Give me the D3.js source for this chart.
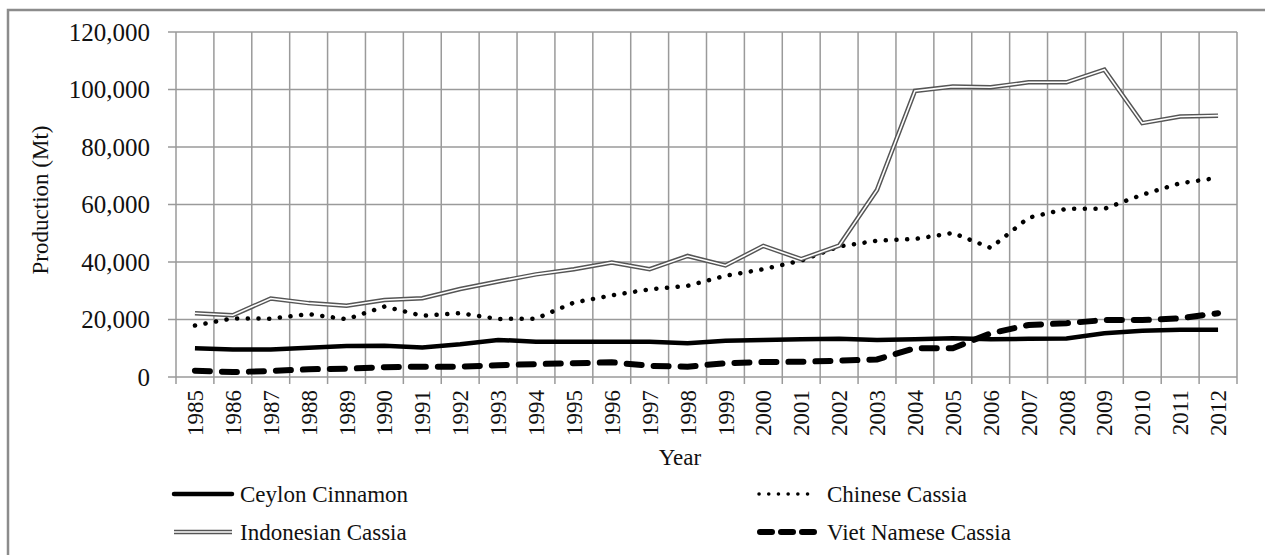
<!DOCTYPE html>
<html>
<head>
<meta charset="utf-8">
<script src="https://cdn.jsdelivr.net/npm/d3@7"></script>
<style>
  body { margin: 0; background: #fff; }
  text { font-family: "Liberation Serif", "Times New Roman", serif; fill: #111; }
</style>
</head>
<body>
<div id="chart"></div>
<script>
const years = ["1985","1986","1987","1988","1989","1990","1991","1992","1993","1994","1995","1996","1997","1998","1999","2000","2001","2002","2003","2004","2005","2006","2007","2008","2009","2010","2011","2012"];

const ceylon = [10000,9600,9600,10200,10800,10900,10300,11400,12900,12300,12300,12300,12300,11700,12600,12900,13100,13300,12900,13100,13500,13100,13300,13400,15200,16100,16400,16400];
const chinese = [17900,20400,20300,21900,20100,24500,21300,22200,20200,20300,25900,28400,30500,31700,35200,37500,40500,45400,47400,48000,50100,44900,55400,58500,58500,63400,67400,69300];
const indonesian = [22200,21500,27300,25700,24800,26800,27400,30600,33200,35700,37500,39800,37500,42100,38800,45600,41000,45700,65100,99500,101000,100800,102500,102500,106900,88300,90600,90900];
const viet = [2200,1700,2100,2700,2900,3400,3600,3600,4100,4500,4800,5100,3900,3600,4800,5200,5300,5700,6100,10000,10000,15200,18100,18700,19800,19800,20400,22200];

const yTicks = [0,20000,40000,60000,80000,100000,120000];

const width = 1265, height = 555;
const margin = {top: 32, right: 28, bottom: 178, left: 176};

const svg = d3.select("#chart")
  .append("svg")
  .attr("width", width)
  .attr("height", height);

// outer frame (only top and left show inside the window)
svg.append("rect")
  .attr("x", 8).attr("y", 10)
  .attr("width", width + 20).attr("height", height + 20)
  .attr("fill", "none")
  .attr("stroke", "#8c8c8c")
  .attr("stroke-width", 2.5);

const xScale = d3.scaleBand()
  .domain(years)
  .range([margin.left, width - margin.right])
  .padding(0);

const yScale = d3.scaleLinear()
  .domain([0, 120000])
  .range([height - margin.bottom, margin.top]);

const xMid = function(d) { return xScale(d) + xScale.bandwidth() / 2; };

// gridlines
svg.append("g")
  .selectAll("line")
  .data(yTicks)
  .enter()
  .append("line")
    .attr("x1", margin.left - 8)
    .attr("x2", width - margin.right)
    .attr("y1", function(d) { return yScale(d); })
    .attr("y2", function(d) { return yScale(d); })
    .attr("stroke", "#9a9a9a")
    .attr("stroke-width", 1.5);

const xEdges = years.map(function(d) { return xScale(d); }).concat([width - margin.right]);

svg.append("g")
  .selectAll("line")
  .data(xEdges)
  .enter()
  .append("line")
    .attr("x1", function(d) { return d; })
    .attr("x2", function(d) { return d; })
    .attr("y1", margin.top)
    .attr("y2", height - margin.bottom + 7)
    .attr("stroke", "#9a9a9a")
    .attr("stroke-width", 1.5);

// y axis labels
const yAxis = svg.append("g")
  .attr("transform", `translate(${margin.left - 26}, 0)`)
  .call(d3.axisLeft(yScale).tickValues(yTicks).tickSize(0).tickPadding(0).tickFormat(d3.format(",")));
yAxis.select(".domain").remove();
yAxis.selectAll("text")
  .style("font-family", "Liberation Serif")
  .style("font-size", "25px")
  .attr("fill", "#111");

// x axis labels
const xAxis = svg.append("g")
  .attr("transform", `translate(0, ${height - margin.bottom + 13})`)
  .call(d3.axisBottom(xScale).tickSize(0).tickPadding(0));
xAxis.select(".domain").remove();
xAxis.selectAll("text")
  .style("font-family", "Liberation Serif")
  .style("font-size", "23px")
  .attr("fill", "#111")
  .attr("text-anchor", "end")
  .attr("dy", "0.35em")
  .attr("y", 0)
  .attr("transform", "rotate(-90)");

// axis titles
svg.append("text")
  .attr("transform", "translate(48, 200) rotate(-90)")
  .attr("text-anchor", "middle")
  .style("font-size", "23px")
  .text("Production (Mt)");

svg.append("text")
  .attr("x", 680)
  .attr("y", 465)
  .attr("text-anchor", "middle")
  .style("font-size", "23px")
  .text("Year");

// series
const series = [
  {name: "Ceylon Cinnamon", values: ceylon, style: "solid"},
  {name: "Chinese Cassia", values: chinese, style: "dot"},
  {name: "Indonesian Cassia", values: indonesian, style: "double"},
  {name: "Viet Namese Cassia", values: viet, style: "dash"}
];

const line = d3.line()
  .x(function(d, i) { return xMid(years[i]); })
  .y(function(d) { return yScale(d); });

function drawStroke(sel, style) {
  if (style == "solid") {
    sel.attr("stroke", "#000").attr("stroke-width", 4.5);
  } else if (style == "dot") {
    sel.attr("stroke", "#000").attr("stroke-width", 4.5)
      .attr("stroke-dasharray", "0.1 10.6").attr("stroke-linecap", "round");
  } else if (style == "dash") {
    sel.attr("stroke", "#000").attr("stroke-width", 6)
      .attr("stroke-dasharray", "15 12").attr("stroke-linecap", "round");
  }
}

const plot = svg.append("g");

series.forEach(function(s) {
  if (s.style == "double") {
    plot.append("path").datum(s.values)
      .attr("d", line).attr("fill", "none")
      .attr("stroke", "#555").attr("stroke-width", 4.5);
    plot.append("path").datum(s.values)
      .attr("d", line).attr("fill", "none")
      .attr("stroke", "#fff").attr("stroke-width", 1.6);
  } else {
    plot.append("path").datum(s.values)
      .attr("d", line).attr("fill", "none")
      .call(drawStroke, s.style);
  }
});

// legend
const legendPos = [
  {x: 172, y: 494}, {x: 757, y: 494},
  {x: 172, y: 532}, {x: 757, y: 532}
];

series.forEach(function(s, i) {
  const p = legendPos[i];
  const g = svg.append("g").attr("transform", `translate(${p.x}, ${p.y})`);
  if (s.style == "double") {
    g.append("line").attr("x1", 2).attr("x2", 60).attr("y1", 0).attr("y2", 0)
      .attr("stroke", "#555").attr("stroke-width", 4.5);
    g.append("line").attr("x1", 2).attr("x2", 60).attr("y1", 0).attr("y2", 0)
      .attr("stroke", "#fff").attr("stroke-width", 1.6);
  } else if (s.style == "dot") {
    g.append("line").attr("x1", 2).attr("x2", 60).attr("y1", 0).attr("y2", 0)
      .attr("stroke", "#000").attr("stroke-width", 3.5)
      .attr("stroke-dasharray", "0.1 9.6").attr("stroke-linecap", "round");
  } else if (s.style == "dash") {
    g.append("line").attr("x1", 3).attr("x2", 60).attr("y1", 0).attr("y2", 0)
      .attr("stroke", "#000").attr("stroke-width", 6)
      .attr("stroke-dasharray", "12 9").attr("stroke-linecap", "round");
  } else {
    g.append("line").attr("x1", 2).attr("x2", 60).attr("y1", 0).attr("y2", 0)
      .attr("stroke", "#000").attr("stroke-width", 4.5).attr("stroke-linecap", "round");
  }
  g.append("text")
    .attr("x", s.style == "dash" || s.style == "dot" ? 70 : 68)
    .attr("y", 0)
    .attr("dy", "0.35em")
    .style("font-size", "23px")
    .text(s.name);
});
</script>
</body>
</html>
